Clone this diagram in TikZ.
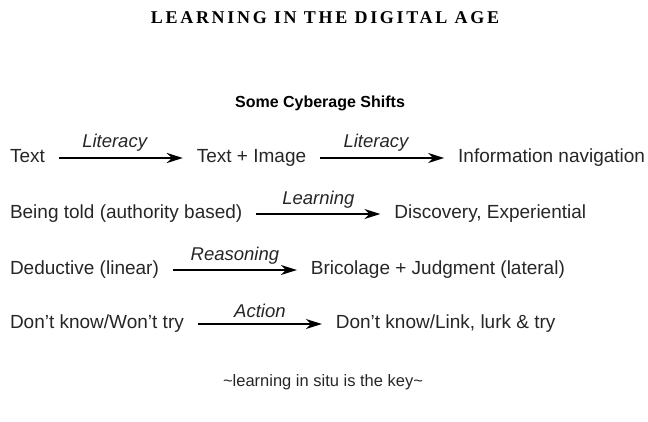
\documentclass[tikz,border=0pt]{standalone}
\usepackage{fontspec}
\setmainfont{Liberation Sans}
\newfontfamily\headfont[LetterSpace=15]{Liberation Serif}
\usetikzlibrary{arrows.meta,positioning}

\begin{document}
\begin{tikzpicture}[x=1pt, y=1pt,
  font=\fontsize{19}{22}\selectfont, >={Stealth[length=16pt,width=10pt,inset=5pt]},
  node distance=124pt,
  t/.style={inner xsep=0pt, outer xsep=14pt, inner ysep=0pt, text height=13pt, text depth=4pt, text=black!85},
  lbl/.style={above=2pt, font=\fontsize{18.5}{21}\selectfont\itshape, text=black!85},
  arrA/.style={->, line width=2.6pt},
  arrB/.style={->, line width=1.5pt}]
\useasboundingbox (0,0) rectangle (648,-421);
\node[font=\headfont\bfseries\fontsize{18}{20}\selectfont] (head) at (325,-18) {LEARNING IN THE DIGITAL AGE};
\node[font=\fontsize{16}{19}\selectfont\bfseries] (title) at (320,-103) {Some Cyberage Shifts};
% media
\node[t, anchor=west] (a0) at (-4,-158) {Text};
\node[t, right=of a0] (a1) {Text + Image};
\node[t, right=of a1] (a2) {Information navigation};
\draw[arrA] (a0) -- node[lbl, pos=.45] {Literacy} (a1);
\draw[arrA] (a1) -- node[lbl, pos=.45] {Literacy} (a2);
% learning
\node[t, anchor=west] (b0) at (-4,-214) {Being told (authority based)};
\node[t, right=of b0] (b1) {Discovery, Experiential};
\draw[arrB] (b0) -- node[lbl] {Learning} (b1);
% reasoning
\node[t, anchor=west] (c0) at (-4,-270) {Deductive (linear)};
\node[t, right=of c0] (c1) {Bricolage + Judgment (lateral)};
\draw[arrB] (c0) -- node[lbl] {Reasoning} (c1);
% action
\node[t, anchor=west] (d0) at (-4,-324) {Don't know/Won't try};
\node[t, right=of d0] (d1) {Don't know/Link, lurk \& try};
\draw[arrB] (d0) -- node[lbl] {Action} (d1);
\node[text=black!85, font=\fontsize{16.5}{19}\selectfont] (foot) at (323,-382) {\textasciitilde learning in situ is the key\textasciitilde};
\end{tikzpicture}
\end{document}
